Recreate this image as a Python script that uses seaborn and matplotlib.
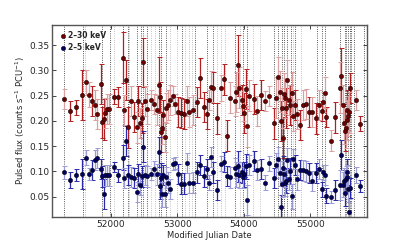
import numpy as np
import pandas as pd
import seaborn as sns
import matplotlib
matplotlib.use("Agg")
import matplotlib.pyplot as plt

# Observation epochs (MJD)
mjd = [51294, 51390, 51480, 51570, 51625, 51665, 51720, 51760, 51795, 51845,
       51870, 51890, 51915, 51935, 51970, 52040, 52110, 52181, 52201, 52226,
       52251, 52296, 52346, 52391, 52411, 52441, 52461, 52481, 52516, 52536,
       52596, 52651, 52696, 52726, 52736, 52746, 52766, 52786, 52811, 52826,
       52857, 52887, 52927, 52962, 53012, 53052, 53092, 53142, 53177, 53237,
       53287, 53342, 53392, 53447, 53477, 53507, 53537, 53598, 53648, 53693,
       53743, 53798, 53863, 53883, 53908, 53933, 53968, 53988, 54008, 54028,
       54053, 54078, 54148, 54203, 54259, 54314, 54384, 54449, 54489, 54509,
       54539, 54554, 54569, 54584, 54599, 54619, 54639, 54654, 54679, 54699,
       54719, 54739, 54764, 54794, 54844, 54884, 54929, 54980, 55030, 55080,
       55130, 55170, 55190, 55215, 55240, 55305, 55370, 55440, 55465, 55485,
       55505, 55515, 55530, 55545, 55555, 55570, 55585, 55600, 55681, 55741]

# 2-30 keV pulsed flux and errors
flux_hard = [0.243, 0.219, 0.227, 0.251, 0.276, 0.252, 0.240, 0.232, 0.213, 0.273,
             0.197, 0.203, 0.216, 0.224, 0.223, 0.248, 0.247, 0.325, 0.221, 0.281,
             0.187, 0.240, 0.208, 0.187, 0.240, 0.196, 0.206, 0.316, 0.240, 0.223,
             0.242, 0.234, 0.222, 0.271, 0.247, 0.178, 0.185, 0.211, 0.168, 0.225,
             0.232, 0.242, 0.249, 0.234, 0.218, 0.216, 0.214, 0.240, 0.218, 0.221,
             0.237, 0.285, 0.228, 0.214, 0.242, 0.268, 0.266, 0.205, 0.265, 0.282,
             0.171, 0.246, 0.240, 0.257, 0.310, 0.266, 0.241, 0.229, 0.216, 0.263,
             0.189, 0.250, 0.244, 0.219, 0.251, 0.240, 0.250, 0.195, 0.246, 0.286,
             0.258, 0.200, 0.225, 0.167, 0.254, 0.245, 0.226, 0.281, 0.241, 0.232,
             0.256, 0.209, 0.232, 0.213, 0.192, 0.231, 0.233, 0.218, 0.218, 0.205,
             0.232, 0.220, 0.237, 0.256, 0.208, 0.161, 0.207, 0.266, 0.289, 0.232,
             0.195, 0.180, 0.186, 0.202, 0.222, 0.210, 0.217, 0.265, 0.242, 0.194]
err_hard = [0.020, 0.020, 0.015, 0.050, 0.025, 0.025, 0.030, 0.030, 0.030, 0.040,
            0.030, 0.040, 0.030, 0.030, 0.030, 0.015, 0.020, 0.050, 0.030, 0.040,
            0.040, 0.030, 0.030, 0.030, 0.030, 0.030, 0.030, 0.048, 0.030, 0.030,
            0.020, 0.020, 0.030, 0.055, 0.030, 0.040, 0.030, 0.030, 0.030, 0.030,
            0.030, 0.030, 0.020, 0.020, 0.030, 0.030, 0.030, 0.030, 0.030, 0.030,
            0.030, 0.040, 0.030, 0.030, 0.020, 0.030, 0.030, 0.030, 0.025, 0.030,
            0.030, 0.030, 0.030, 0.040, 0.060, 0.040, 0.030, 0.030, 0.040, 0.040,
            0.040, 0.030, 0.030, 0.030, 0.030, 0.020, 0.020, 0.030, 0.040, 0.040,
            0.040, 0.040, 0.040, 0.040, 0.040, 0.040, 0.040, 0.040, 0.030, 0.040,
            0.040, 0.030, 0.030, 0.030, 0.030, 0.030, 0.030, 0.030, 0.030, 0.030,
            0.030, 0.020, 0.020, 0.030, 0.020, 0.020, 0.030, 0.050, 0.055, 0.040,
            0.040, 0.040, 0.040, 0.040, 0.040, 0.040, 0.040, 0.030, 0.020, 0.015]

# 2-5 keV pulsed flux and errors
flux_soft = [0.098, 0.083, 0.093, 0.095, 0.127, 0.095, 0.103, 0.123, 0.127, 0.104,
             0.090, 0.055, 0.092, 0.092, 0.092, 0.109, 0.092, 0.127, 0.087, 0.160,
             0.093, 0.089, 0.087, 0.060, 0.094, 0.074, 0.090, 0.149, 0.093, 0.090,
             0.095, 0.105, 0.094, 0.138, 0.071, 0.087, 0.055, 0.093, 0.055, 0.088,
             0.078, 0.065, 0.115, 0.117, 0.095, 0.076, 0.076, 0.117, 0.077, 0.078,
             0.098, 0.112, 0.090, 0.105, 0.078, 0.129, 0.098, 0.063, 0.115, 0.118,
             0.091, 0.088, 0.107, 0.094, 0.110, 0.093, 0.098, 0.088, 0.094, 0.110,
             0.043, 0.112, 0.120, 0.103, 0.104, 0.078, 0.116, 0.087, 0.112, 0.124,
             0.096, 0.029, 0.075, 0.106, 0.095, 0.077, 0.082, 0.122, 0.084, 0.101,
             0.051, 0.124, 0.112, 0.084, 0.103, 0.102, 0.100, 0.097, 0.081, 0.097,
             0.105, 0.065, 0.098, 0.093, 0.052, 0.050, 0.063, 0.073, 0.132, 0.074,
             0.082, 0.057, 0.085, 0.088, 0.099, 0.065, 0.020, 0.067, 0.093, 0.071]
err_soft = [0.013, 0.015, 0.012, 0.030, 0.015, 0.012, 0.020, 0.020, 0.020, 0.020,
            0.020, 0.030, 0.020, 0.020, 0.020, 0.010, 0.012, 0.025, 0.020, 0.030,
            0.020, 0.020, 0.020, 0.020, 0.020, 0.020, 0.020, 0.030, 0.020, 0.020,
            0.012, 0.015, 0.020, 0.030, 0.025, 0.030, 0.025, 0.020, 0.025, 0.020,
            0.020, 0.020, 0.012, 0.012, 0.020, 0.020, 0.020, 0.020, 0.020, 0.020,
            0.020, 0.020, 0.020, 0.020, 0.015, 0.020, 0.020, 0.020, 0.015, 0.020,
            0.020, 0.020, 0.020, 0.025, 0.030, 0.025, 0.020, 0.020, 0.025, 0.025,
            0.030, 0.020, 0.020, 0.020, 0.020, 0.015, 0.015, 0.020, 0.025, 0.025,
            0.025, 0.025, 0.025, 0.025, 0.025, 0.025, 0.025, 0.025, 0.020, 0.025,
            0.025, 0.020, 0.020, 0.020, 0.020, 0.020, 0.020, 0.020, 0.020, 0.020,
            0.020, 0.015, 0.015, 0.020, 0.015, 0.012, 0.020, 0.030, 0.030, 0.025,
            0.025, 0.025, 0.025, 0.025, 0.025, 0.025, 0.025, 0.020, 0.015, 0.012]

# 1 = observation drawn with pale error bars
pale = [1, 0, 0, 0, 1, 1, 0, 1, 1, 0,
        0, 0, 1, 1, 1, 0, 0, 0, 1, 0,
        0, 1, 0, 1, 0, 1, 0, 0, 1, 1,
        1, 1, 1, 0, 0, 0, 1, 0, 1, 1,
        1, 1, 1, 1, 0, 0, 0, 1, 1, 1,
        0, 0, 0, 0, 1, 1, 0, 0, 1, 0,
        0, 1, 1, 1, 0, 1, 0, 1, 0, 0,
        1, 1, 0, 1, 0, 1, 1, 0, 1, 1,
        1, 0, 1, 0, 1, 1, 0, 1, 1, 0,
        1, 1, 0, 1, 0, 1, 1, 0, 1, 0,
        1, 0, 1, 1, 0, 1, 0, 1, 0, 1,
        1, 0, 1, 1, 0, 1, 1, 0, 1, 0]

# Epoch markers
events_major = [51294, 51575, 51860, 51980, 52186, 52251, 52391, 52446, 52476,
                52541, 52726, 52756, 52821, 53062, 53262, 53437, 53537, 53868,
                53988, 54053, 54449, 54519, 54574, 54599, 54649, 54709, 54769,
                55100, 55170, 55225, 55440, 55515, 55540, 55570, 55590, 55615,
                55655, 55805]
events_minor = [51615, 52045, 52276, 52601, 52666, 52887, 52987, 53112, 53172,
                53212, 53598, 53658, 53713, 53938, 54138, 54238, 54739, 54864]

sns.set_style("ticks")
plt.rcParams["font.family"] = ["DejaVu Sans"]

df = pd.DataFrame({"mjd": mjd, "hard": flux_hard, "soft": flux_soft,
                   "err_hard": err_hard, "err_soft": err_soft, "pale": pale})

fig, ax = plt.subplots(figsize=(4.15, 2.49), dpi=100)
fig.subplots_adjust(left=0.125, right=0.884, bottom=0.129, top=0.9)

for m in events_major:
    ax.axvline(m, color="#222222", ls=":", lw=0.6, zorder=0)
for m in events_minor:
    ax.axvline(m, color="#aaaaaa", ls=":", lw=0.6, zorder=0)

styles = [("hard", "err_hard", "#b02020", "#dca0a0", "#6e0000", "2\u201330 keV"),
          ("soft", "err_soft", "#2a2aa8", "#9a9ad6", "#00005e", "2\u20135 keV")]
for col, ecol, dark, light, face, label in styles:
    for flag, colour in [(0, dark), (1, light)]:
        sub = df[df["pale"] == flag]
        ax.errorbar(sub["mjd"], sub[col], yerr=sub[ecol], fmt="none",
                    ecolor=colour, elinewidth=0.9, capsize=1.8, capthick=0.7,
                    zorder=2)
    sns.scatterplot(data=df, x="mjd", y=col, ax=ax, color=face, s=10,
                    edgecolor="black", linewidth=0.3, zorder=3, label=label)

ax.set_xlim(51110, 55850)
ax.set_ylim(0.01, 0.39)
ax.set_xticks([52000, 53000, 54000, 55000])
ax.set_yticks([0.05, 0.10, 0.15, 0.20, 0.25, 0.30, 0.35])
ax.set_yticklabels(["0.05", "0.10", "0.15", "0.20", "0.25", "0.30", "0.35"])
ax.tick_params(direction="in", top=True, right=True, length=3, width=0.6,
               labelsize=6.5, pad=2)
for sp in ax.spines.values():
    sp.set_color("#555555")
    sp.set_linewidth(1.0)
ax.set_xlabel("Modified Julian Date", fontsize=6, labelpad=1.5)
ax.set_ylabel("Pulsed flux (counts s$^{-1}$ PCU$^{-1}$)", fontsize=6, labelpad=1.5)

leg = ax.legend(loc="upper left", frameon=False, handletextpad=0.1,
                borderaxespad=0.4, labelspacing=0.45, handlelength=1.2,
                prop={"weight": "bold", "size": 5.5})

fig.savefig("out.png", dpi=100)
